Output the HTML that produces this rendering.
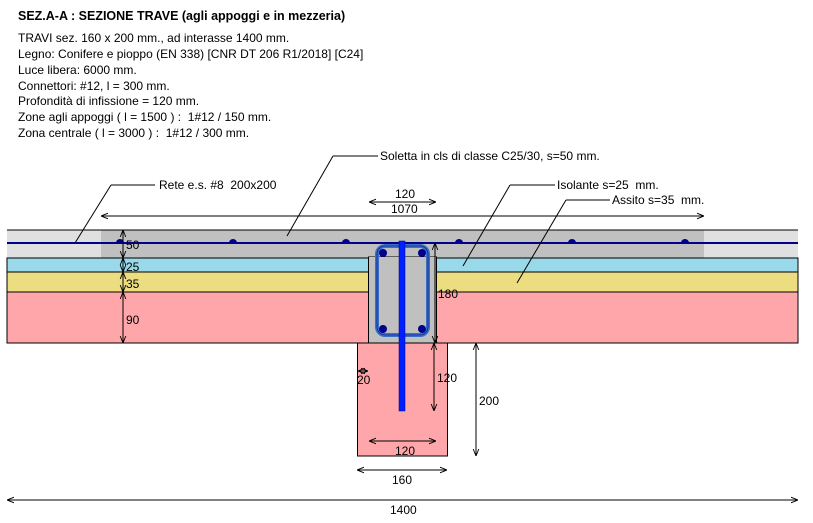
<!DOCTYPE html>
<html><head><meta charset="utf-8"><style>
html,body{margin:0;padding:0;background:#fff;}
svg{display:block;font-family:"Liberation Sans",sans-serif;}
text{white-space:pre;}
</style></head><body>
<svg width="813" height="523" viewBox="0 0 813 523" xmlns="http://www.w3.org/2000/svg" xml:space="preserve">
<defs>
<marker id="a" viewBox="0 0 10 10" refX="10" refY="5" markerWidth="7" markerHeight="7" orient="auto-start-reverse" markerUnits="userSpaceOnUse"><path d="M0,1 L10,5 L0,9" fill="none" stroke="#000" stroke-width="1.3"/></marker>
</defs>
<g font-size="12" fill="#000">
<text x="18" y="20" font-weight="bold" font-size="12.5">SEZ.A-A : SEZIONE TRAVE (agli appoggi e in mezzeria)</text>
<text x="18" y="42">TRAVI sez. 160 x 200 mm., ad interasse 1400 mm.</text>
<text x="18" y="58">Legno: Conifere e pioppo (EN 338) [CNR DT 206 R1/2018] [C24]</text>
<text x="18" y="74">Luce libera: 6000 mm.</text>
<text x="18" y="90">Connettori: #12, l = 300 mm.</text>
<text x="18" y="105">Profondità di infissione = 120 mm.</text>
<text x="18" y="121">Zone agli appoggi ( l = 1500 ) :  1#12 / 150 mm.</text>
<text x="18" y="137">Zona centrale ( l = 3000 ) :  1#12 / 300 mm.</text>
</g>
<rect x="7" y="230" width="791" height="28" fill="#e0e0e0"/>
<rect x="101" y="230" width="603" height="28" fill="#c0c0c0"/>
<rect x="7" y="258" width="791" height="14" fill="#99d9ea" stroke="#000" stroke-width="1"/>
<rect x="7" y="272" width="791" height="20" fill="#ecdd80" stroke="#000" stroke-width="1"/>
<rect x="7" y="292" width="791" height="51" fill="#ffa6aa" stroke="#000" stroke-width="1"/>
<line x1="7" y1="230" x2="798" y2="230" stroke="#000"/>
<rect x="357.5" y="343" width="90" height="113" fill="#ffa6aa" stroke="#000"/>
<rect x="368.5" y="257" width="68" height="86" fill="#c0c0c0" stroke="#000"/>
<rect x="369" y="257" width="67" height="3" fill="#c0c0c0"/>
<line x1="7" y1="343" x2="798" y2="343" stroke="#000"/>
<line x1="7" y1="243" x2="798" y2="243" stroke="#00008b" stroke-width="2"/>
<g fill="#00008b">
<path d="M116,243 a4,4 0 0 1 8,0z"/><path d="M229,243 a4,4 0 0 1 8,0z"/><path d="M342,243 a4,4 0 0 1 8,0z"/>
<path d="M455,243 a4,4 0 0 1 8,0z"/><path d="M568,243 a4,4 0 0 1 8,0z"/><path d="M681,243 a4,4 0 0 1 8,0z"/>
</g>
<rect x="377" y="246" width="51" height="89" rx="8" fill="none" stroke="#3a6fc4" stroke-width="4"/>
<rect x="377" y="246" width="51" height="89" rx="8" fill="none" stroke="#00008b" stroke-width="0.6"/>
<g fill="#00008b"><circle cx="383" cy="253" r="4"/><circle cx="422" cy="253" r="4"/><circle cx="383" cy="329" r="4"/><circle cx="422" cy="329" r="4"/></g>
<rect x="399" y="241" width="6" height="170" fill="#0020ff" stroke="#00008b" stroke-width="0.5"/>
<g stroke="#000" stroke-width="1" fill="none">
<polyline points="333,156 378,156"/><line x1="333" y1="156" x2="287" y2="236"/>
<polyline points="111,185 155,185"/><line x1="111" y1="185" x2="75" y2="243"/>
<polyline points="510,185 555,185"/><line x1="510" y1="185" x2="463" y2="266"/>
<polyline points="566,200 610,200"/><line x1="566" y1="200" x2="517" y2="283"/>
</g>
<g font-size="12">
<text x="380" y="160">Soletta in cls di classe C25/30, s=50 mm.</text>
<text x="159" y="189">Rete e.s. #8  200x200</text>
<text x="557" y="189">Isolante s=25  mm.</text>
<text x="612" y="204">Assito s=35  mm.</text>
</g>
<g stroke="#000" stroke-width="1" fill="none">
<line x1="369" y1="202" x2="436" y2="202" marker-start="url(#a)" marker-end="url(#a)"/>
<line x1="101" y1="216" x2="704" y2="216" marker-start="url(#a)" marker-end="url(#a)"/>
<line x1="123" y1="230" x2="123" y2="258" marker-start="url(#a)" marker-end="url(#a)"/>
<line x1="123" y1="258" x2="123" y2="272" marker-start="url(#a)" marker-end="url(#a)"/>
<line x1="123" y1="272" x2="123" y2="292" marker-start="url(#a)" marker-end="url(#a)"/>
<line x1="123" y1="292" x2="123" y2="343" marker-start="url(#a)" marker-end="url(#a)"/>
<line x1="435" y1="243" x2="435" y2="343" marker-start="url(#a)" marker-end="url(#a)"/>
<line x1="434" y1="343" x2="434" y2="411" marker-start="url(#a)" marker-end="url(#a)"/>
<line x1="476" y1="343" x2="476" y2="456" marker-start="url(#a)" marker-end="url(#a)"/>
<line x1="369" y1="441" x2="436" y2="441" marker-start="url(#a)" marker-end="url(#a)"/>
<line x1="357" y1="470" x2="447" y2="470" marker-start="url(#a)" marker-end="url(#a)"/>
<line x1="7" y1="500" x2="798" y2="500" marker-start="url(#a)" marker-end="url(#a)"/>
<line x1="358" y1="371" x2="368" y2="371" marker-start="url(#a)" marker-end="url(#a)"/>
</g>
<g font-size="12">
<text x="395" y="198">120</text>
<text x="391" y="213">1070</text>
<text x="126" y="249">50</text>
<text x="126" y="271">25</text>
<text x="126" y="288">35</text>
<text x="126" y="324">90</text>
<text x="438" y="298">180</text>
<text x="437" y="382">120</text>
<text x="479" y="405">200</text>
<text x="357" y="384">20</text>
<text x="395" y="455">120</text>
<text x="392" y="484">160</text>
<text x="390" y="514">1400</text>
</g>
</svg>
</body></html>
